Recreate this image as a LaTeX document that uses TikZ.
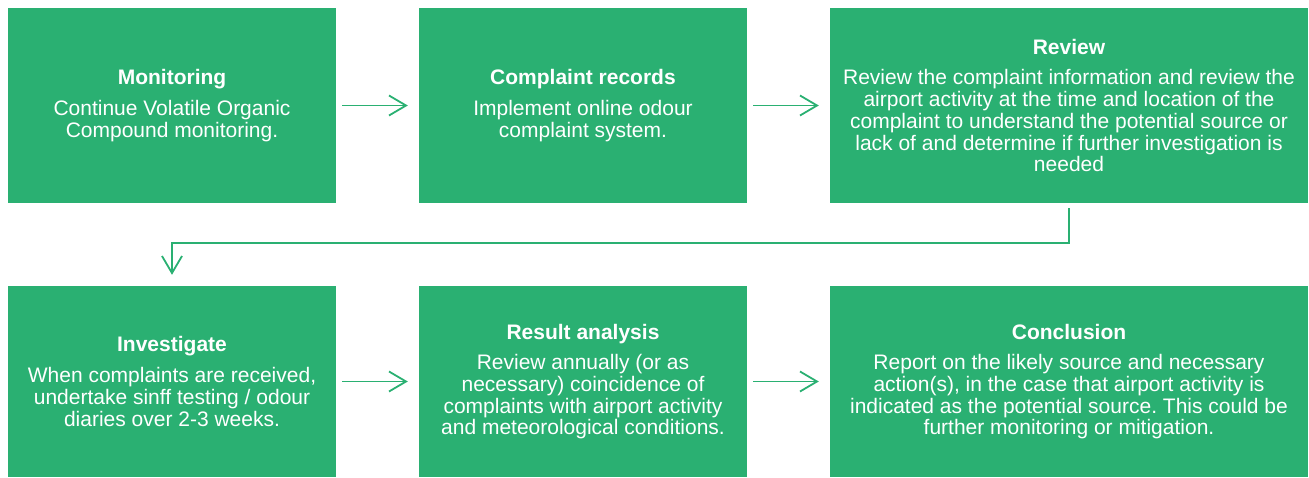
\documentclass[tikz,border=0pt]{standalone}
\usepackage{fontspec}
\setmainfont{Liberation Sans}
\usepackage{tikz}
\usetikzlibrary{arrows.meta}
\definecolor{stagegreen}{RGB}{42,176,114}
\newcommand{\stagetext}[2]{\textbf{#1}\\[9pt]#2}
\frenchspacing

\begin{document}
\begin{tikzpicture}[x=1pt,y=-1pt,
  stage/.style={fill=stagegreen,text=white,inner sep=0pt,align=center,minimum height=195pt,
    font=\fontsize{21}{21.7}\selectfont},
  flow/.style={stagegreen,line width=1.8pt,-{Straight Barb[length=17pt,width=20pt,line width=1.8pt]},shorten <=6pt,shorten >=11pt}]
\useasboundingbox (0,0) rectangle (1309,477);

\node[stage,minimum width=328pt] (mon) at (172,105.5) {\stagetext{Monitoring}{Continue Volatile Organic\\Compound monitoring.}};
\node[stage,minimum width=328pt] (rec) at (583,105.5) {\stagetext{Complaint records}{Implement online odour\\complaint system.}};
\node[stage,minimum width=478pt] (rev) at (1069,105.5) {\stagetext{Review}{Review the complaint information and review the\\airport activity at the time and location of the\\complaint to understand the potential source or\\lack of and determine if further investigation is\\needed}};

\node[stage,minimum width=328pt,minimum height=191pt] (inv) at (172,381.5) {\stagetext{Investigate}{When complaints are received,\\undertake sinff testing / odour\\diaries over 2-3 weeks.}};
\node[stage,minimum width=328pt,minimum height=191pt] (res) at (583,381.5) {\stagetext{Result analysis}{Review annually (or as\\necessary) coincidence of\\complaints with airport activity\\and meteorological conditions.}};
\node[stage,minimum width=478pt,minimum height=191pt] (con) at (1069,381.5) {\stagetext{Conclusion}{Report on the likely source and necessary\\action(s), in the case that airport activity is\\indicated as the potential source. This could be\\further monitoring or mitigation.}};

\draw[flow] (mon) -- (rec);
\draw[flow] (rec) -- (rev);
\draw[flow,shorten <=5pt] (rev.south) -- ++(0,40) -| (inv.north);
\draw[flow] (inv) -- (res);
\draw[flow] (res) -- (con);
\end{tikzpicture}
\end{document}
